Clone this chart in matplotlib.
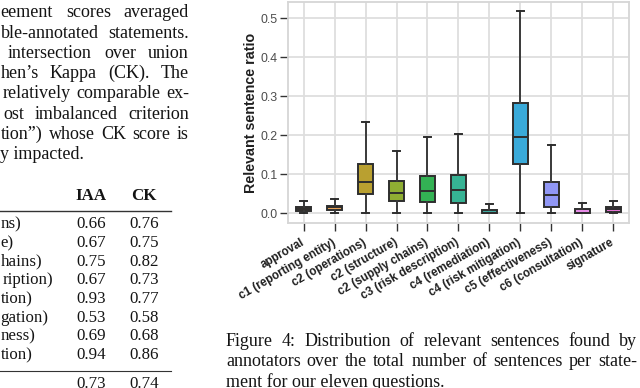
import matplotlib
matplotlib.use("Agg")
import matplotlib.pyplot as plt

# ---------------- data ----------------
categories = ["approval", "c1 (reporting entity)", "c2 (operations)", "c2 (structure)",
              "c2 (supply chains)", "c3 (risk description)", "c4 (remediation)",
              "c4 (risk mitigation)", "c5 (effectiveness)", "c6 (consultation)", "signature"]
whis_lo = [0.0, 0.0, 0.0, 0.0, 0.0, 0.0, 0.0, 0.0, 0.0, 0.0, 0.0]
q1      = [0.007, 0.008, 0.051, 0.031, 0.030, 0.028, 0.000, 0.126, 0.017, 0.000, 0.004]
median  = [0.012, 0.016, 0.081, 0.053, 0.058, 0.060, 0.000, 0.197, 0.046, 0.000, 0.012]
q3      = [0.017, 0.020, 0.126, 0.083, 0.097, 0.099, 0.010, 0.283, 0.080, 0.012, 0.017]
whis_hi = [0.031, 0.037, 0.235, 0.160, 0.197, 0.204, 0.023, 0.519, 0.175, 0.028, 0.032]
box_colors = ["#e8a358", "#e8a358", "#b9a030", "#8fae33", "#33b254", "#36b394",
              "#3fa9a0", "#3aaad9", "#9197f5", "#e68be6", "#e374d3"]
yticks = [0.0, 0.1, 0.2, 0.3, 0.4, 0.5]

para_lines = [
    "eement scores averaged",
    "ble-annotated statements.",
    "intersection over union",
    "hen\u2019s Kappa (CK). The",
    "relatively comparable ex-",
    "ost imbalanced criterion",
    "tion\u201d) whose CK score is",
    "y impacted.",
]
table_header = ["IAA", "CK"]
table_rows = ["ns)", "e)", "hains)", "ription)", "tion)", "gation)", "ness)", "tion)"]
iaa = ["0.66", "0.67", "0.75", "0.67", "0.93", "0.53", "0.69", "0.94"]
ck = ["0.76", "0.75", "0.82", "0.73", "0.77", "0.58", "0.68", "0.86"]
avg_row = ["0.73", "0.74"]
caption_lines = [
    "Figure 4: Distribution of relevant sentences found by",
    "annotators over the total number of sentences per state-",
    "ment for our eleven questions.",
]

# ---------------- figure ----------------
W, H = 640, 388
fig = plt.figure(figsize=(W / 100, H / 100), dpi=100)
fig.patch.set_facecolor("white")
SERIF = ["Liberation Serif", "DejaVu Serif"]
SANS = ["Liberation Sans", "DejaVu Sans"]
TXT = "#141414"

def fx(x):
    return x / W

def fy(y):
    return 1 - y / H

renderer = fig.canvas.get_renderer()

def width_px(s, size):
    t = fig.text(0, 0, s, fontsize=size, family=SERIF)
    w = t.get_window_extent(renderer).width
    t.remove()
    return w

def justified(words, x0, x1, ybase, size, justify=True):
    if not justify or len(words) == 1:
        fig.text(fx(x0), fy(ybase), " ".join(words), fontsize=size, family=SERIF,
                 va="baseline", ha="left", color=TXT)
        return
    ws = [width_px(w, size) for w in words]
    gap = (x1 - x0 - sum(ws)) / (len(words) - 1)
    x = x0
    for w, wd in zip(words, ws):
        fig.text(fx(x), fy(ybase), w, fontsize=size, family=SERIF,
                 va="baseline", ha="left", color=TXT)
        x += wd + gap

FS = 13.0
FT = 12.2
# paragraph on the left (justified)
para_x0 = [0.5, 0.5, 8, 0.5, 3, 3, 0.5, 0.5]
for i, line in enumerate(para_lines):
    yb = 17.3 + 20.3 * i
    justified(line.split(), para_x0[i], 189, yb, FS, justify=(i < len(para_lines) - 1))

# table
for txt, xc in zip(table_header, [91, 143.7]):
    fig.text(fx(xc), fy(200), txt, fontsize=FT, family=SERIF, weight="bold",
             ha="center", va="baseline", color=TXT)
fig.add_artist(plt.Line2D([0, fx(171)], [fy(210.7), fy(210.7)], transform=fig.transFigure,
                          color="#333333", lw=1.0))
label_x0 = [0.5, 0.5, 0.5, 3, 0.5, 0.5, 0.5, 0.5]
for i, (lab, a, b) in enumerate(zip(table_rows, iaa, ck)):
    yb = 228.3 + 18.7 * i
    fig.text(fx(label_x0[i]), fy(yb), lab, fontsize=FT, family=SERIF, ha="left",
             va="baseline", color=TXT)
    fig.text(fx(91), fy(yb), a, fontsize=FT, family=SERIF, ha="center", va="baseline",
             color=TXT)
    fig.text(fx(143.7), fy(yb), b, fontsize=FT, family=SERIF, ha="center", va="baseline",
             color=TXT)
fig.add_artist(plt.Line2D([0, fx(171)], [fy(371), fy(371)], transform=fig.transFigure,
                          color="#333333", lw=0.8))
fig.text(fx(91), fy(388.5), avg_row[0], fontsize=FT, family=SERIF, ha="center",
         va="baseline", color=TXT)
fig.text(fx(143.7), fy(388.5), avg_row[1], fontsize=FT, family=SERIF, ha="center",
         va="baseline", color=TXT)

# caption
for i, line in enumerate(caption_lines):
    yb = 346 + 20.4 * i
    justified(line.split(), 226, 637, yb, FS, justify=(i < 2))

# ---------------- box plot ----------------
ax = fig.add_axes([fx(288), fy(223), fx(629) - fx(288), fy(2) - fy(223)])
ax.set_facecolor("white")
stats = []
for i, c in enumerate(categories):
    stats.append(dict(label=c, whislo=whis_lo[i], q1=q1[i], med=median[i],
                      q3=q3[i], whishi=whis_hi[i], fliers=[]))
pos = list(range(len(categories)))
bp = ax.bxp(stats, positions=pos, widths=0.5, patch_artist=True, showfliers=False,
            boxprops=dict(edgecolor="#2e2e2e", linewidth=1.4),
            medianprops=dict(color="#2e2e2e", linewidth=1.4),
            whiskerprops=dict(color="#3a3a3a", linewidth=1.4),
            capprops=dict(color="#2e2e2e", linewidth=1.4))
for patch, col in zip(bp["boxes"], box_colors):
    patch.set_facecolor(col)
for art in bp["boxes"] + bp["medians"] + bp["whiskers"] + bp["caps"]:
    art.set_zorder(3)

ax.set_xlim(-0.5, len(categories) - 0.5)
ax.set_ylim(-0.0245, 0.542)
ax.set_yticks(yticks)
ax.set_yticklabels([f"{v:.1f}" for v in yticks], family=SANS, fontsize=8.9,
                   color="#4d4d4d")
ax.set_xticks(pos)
ax.set_xticklabels(categories, rotation=30, ha="right", va="center",
                   rotation_mode="anchor", family=SANS, fontsize=8.4,
                   weight="bold", color="#1f1f1f")
ax.tick_params(axis="x", length=5.5, width=1.0, color="#333333", pad=8)
ax.tick_params(axis="y", length=5.5, width=1.0, color="#333333", pad=2)
ax.grid(True, color="#dedede", linewidth=1.3, zorder=0)
ax.set_axisbelow(True)
for sp in ax.spines.values():
    sp.set_color("#d6d6d6")
    sp.set_linewidth(1.3)
ax.set_ylabel("Relevant sentence ratio", family=SANS, fontsize=10.3, weight="bold",
              color="#1f1f1f", labelpad=2)

fig.savefig("out.png", dpi=100)
